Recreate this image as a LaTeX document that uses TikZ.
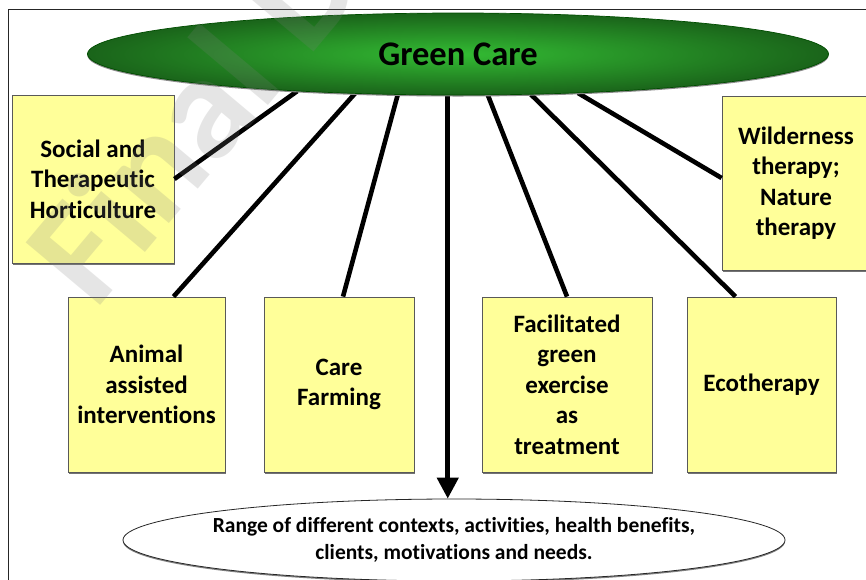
\documentclass[tikz,border=0pt]{standalone}
\usepackage{fontspec}
\setmainfont[Ligatures={NoCommon}]{Carlito}
\usetikzlibrary{shapes.geometric,arrows.meta,calc,shadows}
\definecolor{boxyellow}{HTML}{FFFF99}
\definecolor{gcinner}{HTML}{33BB33}
\definecolor{gcouter}{HTML}{1A641A}
\begin{document}
\begin{tikzpicture}[x=1pt,y=-1pt,
  catbox/.style={draw=black!65, line width=0.8pt, fill=boxyellow, align=center,
    font=\fontsize{25}{30.5}\selectfont\bfseries, inner sep=0pt,
    drop shadow={shadow xshift=1.2pt, shadow yshift=-1.5pt, fill=black!55, opacity=1}},
  spoke/.style={line width=4.6pt, black},
]
\useasboundingbox (0,0) rectangle (866,579);
\clip (0,0) rectangle (866,579);
\fill[white] (0,0) rectangle (866,579);
% frame
\draw[line width=1.3pt, black!85] (8.5,590) -- (8.5,9.5) -- (870,9.5);

% category boxes
\node[catbox, minimum width=162pt, minimum height=168pt] (social) at (93,179) {Social and\\Therapeutic\\Horticulture};
\node[catbox, minimum width=148pt, minimum height=174pt] (wild) at (796,183) {Wilderness\\therapy;\\Nature\\therapy};
\node[catbox, minimum width=157pt, minimum height=175pt] (animal) at (146.5,384.5) {Animal\\assisted\\interventions};
\node[catbox, minimum width=150pt, minimum height=175pt] (care) at (339,384.5) {Care\\Farming};
\node[catbox, minimum width=170pt, minimum height=175pt] (facil) at (567,384.5) {Facilitated\\green\\exercise\\as\\treatment};
\node[catbox, minimum width=149pt, minimum height=175pt] (eco) at (761.5,384.5) {Ecotherapy};

% bottom ellipse
\node[ellipse, draw=black!85, line width=0.8pt, fill=white, minimum width=662pt, minimum height=82pt,
  inner sep=0pt,
  drop shadow={shadow xshift=0pt, shadow yshift=-1.5pt, fill=black!50, opacity=1}] (bot) at (454,540) {};
\node[align=center, inner sep=0pt, font=\fontsize{21.5}{27}\selectfont\bfseries] (bottxt) at (bot.center)
  {Range of different contexts, activities, health benefits,\\clients, motivations and needs.};

% green ellipse (invisible, for anchors)
\node[ellipse, minimum width=741pt, minimum height=82pt, inner sep=0pt] (gc) at (458,54) {};

% spokes
\draw[spoke] (gc.193.9) -- (social.east);
\draw[spoke] (gc.201.6) -- ([xshift=27pt]animal.north);
\draw[spoke] (gc.214.9) -- ([xshift=4pt]care.north);
\draw[spoke] (gc.306.3) -- (facil.north);
\draw[spoke] (gc.331.9) -- ([xshift=-26pt]eco.north);
\draw[spoke] (gc.342.8) -- ([yshift=5pt]wild.west);
\draw[spoke, -{Triangle[width=21pt,length=21pt]}] (gc.256.3) -- (gc.256.3 |- bot.north);

% green ellipse visible
\node[ellipse, draw=black!70!green, line width=0.7pt, shading=radial, inner color=gcinner, outer color=gcouter,
  minimum width=741pt, minimum height=82pt, inner sep=0pt,
  font=\fontsize{34.5}{34.5}\selectfont\bfseries,
  drop shadow={shadow xshift=0pt, shadow yshift=-1.5pt, fill=black!45, opacity=1}] (gcv) at (gc) {Green Care};

% watermark
\node[rotate=50, anchor=base west, inner sep=0pt, font=\fontsize{150}{150}\selectfont\bfseries,
  text=gray, opacity=0.2] (wm) at (95,312) {Final Draft};
\end{tikzpicture}
\end{document}
